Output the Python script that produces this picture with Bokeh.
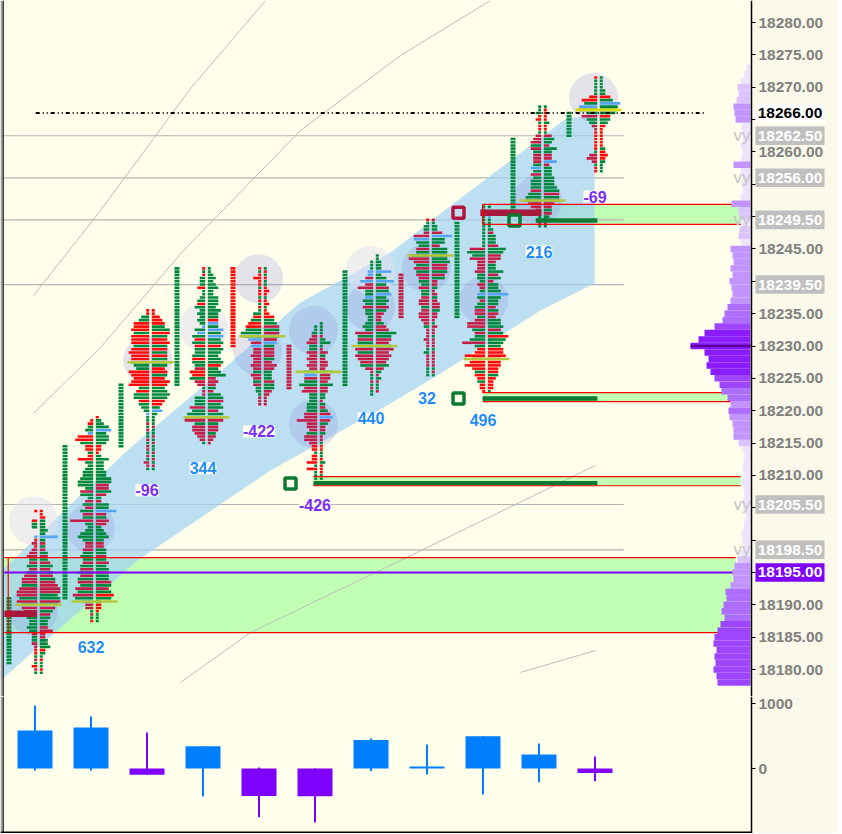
from bokeh.plotting import figure
from bokeh.models import ColumnDataSource, LinearAxis, FixedTicker, Range1d, LabelSet
from bokeh.layouts import column
from bokeh.embed import file_html
from bokeh.resources import INLINE
from bokeh.core.properties import value

# ---------------- data ----------------
SESSION = list(range(11))

# footprint profile per session: price of the top level, then one char per 0.5 level (top -> bottom)
# digits = green, a-i = red, A-I = crimson, j-r = blue; the rank in its range is the bar size
PROFILE_HIGH = [18204.5, 18219.0, 18235.5, 18242.0, 18242.0, 18233.5, 18244.0, 18249.5, 18251.5, 18267.0, 18271.5]
PROFILE_LEFT = [
    "a..b22..ja" "BaBCD3C4C4" "EFF6GHH7H6" "FE543343B2" "2BAaa1A1bA1",
    ".ab23kfg5c" "c2bf323445" "663E52C4C5" "D4I323564C" "CD454D5E6E" "6F5G6H7mCC" "1A1a",
    "aa34ffg6gg" "g6ghgg765h" "gfgh4e66d4" "32j11A1A11" "A1AA1A1BA1",
    "a1a222c112" "3c423232j4" "l5d5d445e5" "4Dfe6DC1AA" "444F57HH4E" "EDCB1",
    "a1acaa1aa1" "a1a13c4ef6" "87nDmCCDCC" "DC3DC3C221AAA",
    ".112BCD33D" "CDCDC5nE57" "EF333444EE" "HDDC4EECbb" "1bbd1d111",
    "..111kkCnC" "F33l43D332" "2343G6F66G" "6GFE5CA11A" "1A11",
    "a122BFo54E" "57HF5F5ED4" "3D33CDD3CD" "DCB2AAABAA" "12AAAA111",
    "1111111111" "111F75FCCC" "D332CB2l3B" "34DD3DGG5D" "46I4cdhefh" "e4dc3bba",
    "112ab1aa1B" "CD4D3CCC3m" "3D3444D566" "EDB211A1",
    "a11111cf5p" "74F43BAaaa" "aaa1CDB1aa",
]
PROFILE_RIGHT = [
    "aab22232p2" "B2B3C3D5D5" "E6FGHH78H7" "F5D433CEBB" "334b21a11a1",
    "a235o4554b" "ba25333446" "6EE6D2B55q" "D4ED23453C" "C44D4E45E5" "5F6E6g62bb" "a111",
    "aacde57g6f" "g6f6f666ef" "6egf5676ed" "3m2111A11A" "1A11A1A1A1",
    "1123234224" "443544dm4o" "5o56e65456" "e457CDC3B5" "6F56D6FF4D" "D3CBA",
    "1a1a11aba1" "ab1abd45F6" "F6En4DDD4C" "ED333D44CBAAA",
    "1111A241AC" "2BCCB5DDC5" "CC22A2B3Dn" "D3BB2AA1aa" "11a2aaa11",
    "11222o24p4" "E5o454E4CB" "B3DE86FE6G" "EFED5C2A2A" "11A.",
    "A122Dq55C6" "6667FF6E5B" "B2AB2BCC3B" "BA1BAA1AAA" "1AAAAA1A1",
    "1.1j1112B3" "33D76EEC33" "6D5B445q54" "4C4DC556E6" "h765ffgeee" "dd4cbbb1",
    "1aaaa2aa1C" "43B53CCnB3" "3344456F66" "DC3C21A1",
    "111122d5q7" "76d43baaaa" "aa2bcb2111",
]
POC_PRICE = [18190.0, 18190.5, 18227.5, 18219.0, 18231.5, 18226.0, 18230.0, 18244.0, 18228.0, 18252.5, 18266.5]

# single-print column beside each profile
TPO_HIGH = [18191.0, 18214.5, 18224.0, 18242.0, 18242.0, 18230.0, 18241.5, 18241.0, 18249.0, 18262.0, 18266.0]
TPO_LOW = [18181.0, 18191.0, 18214.5, 18224.0, 18230.0, 18223.5, 18224.0, 18234.5, 18234.5, 18251.0, 18262.5]
TPO_KIND = ["g", "g", "g", "g", "r", "c", "g", "c", "g", "g", "g"]

# session delta (bottom pane) and the labels under each profile
DELTA = [585, 632, -96, 344, -422, -426, 440, 32, 496, 216, -69]
DELTA_HIGH = [970, 800, 554, 344, 15, 0, 460, 370, 496, 385, 185]
DELTA_LOW = [-30, -30, -96, -430, -750, -830, -40, -92, -400, -210, -195]
LABEL_SESSION = [1, 2, 3, 4, 5, 6, 7, 8, 9, 10]
LABEL_PRICE = [18183.5, 18207.7, 18211.1, 18216.8, 18205.5, 18218.8, 18221.9, 18218.6, 18244.6, 18253.1]

# composite volume profile at the right edge
VOL_PRICE = list(range(18273, 18177, -1))
VOL_SIZE = [4, 6, 10, 13, 12, 14, 17, 16, 15, 9, 8, 8, 10, 8, 9, 17, 10, 8, 9, 8, 10, 19, 12, 11, 9,
            11, 12, 10, 20, 18, 17, 20, 18, 21, 19, 18, 20, 23, 26, 28, 36, 46, 52, 60, 46, 42, 44, 40,
            36, 31, 29, 23, 20, 22, 21, 18, 17, 17, 12, 8, 6, 7, 8, 6, 9, 7, 6, 8, 7, 5, 6, 7, 9, 8, 7,
            10, 13, 16, 18, 17, 20, 25, 24, 27, 29, 26, 30, 33, 36, 37, 34, 36, 35, 37, 34, 33]
VOL_POC = 18230.0

# levels
VY_LINES = [18262.5, 18256.0, 18249.5, 18239.5, 18205.5, 18198.5]
VY_TEXT_LEVELS = [18262.5, 18256.0, 18249.5, 18205.5, 18198.5]
AXIS_MARKS = [18266.0, 18262.5, 18256.0, 18249.5, 18239.5, 18205.5, 18198.5, 18195.0]
AXIS_MARK_KIND = ["last", "vy", "vy", "vy", "vy", "vy", "vy", "ib"]
PRICE_TICKS = list(range(18180, 18281, 5))
DELTA_TICKS = [0, 1000]

# zones (price top/bottom, start/end in session units)
ZONE_TOP = [18197.3, 18209.8, 18222.8, 18251.9]
ZONE_BOTTOM = [18185.7, 18208.4, 18221.4, 18248.8]
ZONE_START = [-0.61, 4.91, 7.93, 7.93]
ZONE_END = [12.45, 12.54, 12.54, 12.54]
THICK_START = [-0.61, 7.89, 8.88, 4.91, 7.93]
THICK_END = [-0.03, 8.98, 9.98, 9.98, 9.98]
THICK_PRICE = [18188.6, 18250.6, 18249.4, 18208.8, 18221.9]
THICK_KIND = ["c", "c", "g", "g", "g"]
SQUARE_X = [7.5, 4.5, 7.5, 8.5]
SQUARE_PRICE = [18250.6, 18208.75, 18221.9, 18249.4]
SQUARE_KIND = ["c", "g", "g", "g"]
LAST_PRICE = 18266.0
LAST_SPAN = [-0.05, 11.91]
IB_PRICE = 18195.0
IB_SPAN = [-0.61, 12.48]

# channel band
BAND_X = [-0.679, 0.089, 1.643, 2.893, 4.679, 6.286, 7.411, 9.446, 9.929,
          9.929, 8.964, 7.179, 6.286, 4.143, 1.768, 0.339, -0.679]
BAND_P = [18194.99, 18201.48, 18214.31, 18223.43, 18236.72, 18244.45, 18252.02, 18265.32, 18265.32,
          18239.66, 18235.49, 18225.75, 18221.11, 18210.76, 18196.85, 18186.03, 18178.30]

# thin trend curves
TREND_X = [[-0.089, 1.107, 2.714, 4.054],
           [-0.089, 1.107, 2.589, 4.679, 6.464, 8.071],
           [2.536, 3.786, 6.464, 9.946],
           [8.607, 9.946]]
TREND_P = [[18237.8, 18250.94, 18269.8, 18283.4],
           [18219.57, 18229.77, 18244.76, 18263.31, 18274.9, 18283.4],
           [18177.99, 18185.72, 18196.85, 18211.53],
           [18179.54, 18182.94]]

# highlight circles
CIRCLE_X = [0.93, -0.09, 1.95, 3.93, 3.91, 4.91, 4.91, 5.93, 6.93, 7.95, 8.91, 9.91, -0.09, 2.95, 5.93]
CIRCLE_P = [18201.9, 18189.1, 18227.8, 18240.4, 18229.3, 18232.4, 18218.0, 18236.0, 18242.1, 18237.0,
            18252.5, 18268.4, 18203.0, 18232.9, 18241.7]
CIRCLE_KIND = ["p"] * 12 + ["w"] * 3

# ---------------- styling ----------------
BG = "#FFFFEC"
BG_SIDE = "#FBFAEA"
PX = 1 / 56.0          # session units per pixel
PPX = 6.47             # pixels per price point
GREEN = "#00883C"
RED = "#FF0A0A"
CRIMSON = "#C41E46"
BLUE = "#55A5F5"
COL = {"g": GREEN, "r": RED, "c": CRIMSON, "b": BLUE}
FONT = "Liberation Sans"
TOTAL_W, FRAME_H, LOW_H = 838, 696, 137


def decode(ch):
    if ch == ".":
        return None
    if ch.isdigit():
        return "g", int(ch)
    if "a" <= ch <= "i":
        return "r", ord(ch) - 96
    if "A" <= ch <= "I":
        return "c", ord(ch) - 64
    if "j" <= ch <= "r":
        return "b", ord(ch) - 105
    return None


def sx(px):
    """session-unit coordinate of a pixel column"""
    return (px - 38) * PX


X0 = sx(0)
X1 = sx(TOTAL_W)
XAXIS = sx(751)
Y1 = 18280 + 22 / PPX
Y0 = Y1 - FRAME_H / PPX

p = figure(frame_width=TOTAL_W, frame_height=FRAME_H, x_range=Range1d(X0, X1), y_range=Range1d(Y0, Y1),
           output_backend="svg", toolbar_location=None, x_axis_location=None, y_axis_location=None,
           min_border_left=0, min_border_right=0, min_border_top=0, min_border_bottom=0,
           background_fill_color=BG, border_fill_color=BG_SIDE, outline_line_color=None)
p.grid.visible = False

# scale area background
p.quad(left=[XAXIS], right=[X1], top=[Y1], bottom=[Y0], fill_color=BG_SIDE, line_color=None)

# zones
p.quad(left=ZONE_START, right=ZONE_END, top=ZONE_TOP, bottom=ZONE_BOTTOM,
       fill_color="#C0FFB4", line_color=None)

# gray level lines
p.segment(x0=[X0] * len(VY_LINES), x1=[10.45] * len(VY_LINES), y0=VY_LINES, y1=VY_LINES,
          line_color="#B4B4B4", line_width=1.2)

# trend curves
for tx, tp in zip(TREND_X, TREND_P):
    p.line(tx, tp, line_color="#BDBDBD", line_width=1)

# channel band
p.patch(BAND_X, BAND_P, fill_color="#A1D1F5", fill_alpha=0.7, line_color=None)

# circles
csrc = ColumnDataSource(dict(
    x=CIRCLE_X, y=CIRCLE_P,
    c=["#9090E0" if k == "p" else "#E0E0F0" for k in CIRCLE_KIND],
    a=[0.25 if k == "p" else 0.55 for k in CIRCLE_KIND]))
p.scatter("x", "y", source=csrc, size=49, marker="circle", fill_color="c", fill_alpha="a", line_color=None)

# single prints
tl, tr, tt, tb, tc = [], [], [], [], []
for i in SESSION:
    pr = TPO_HIGH[i]
    while pr >= TPO_LOW[i] - 1e-9:
        tl.append(i - 32 * PX); tr.append(i - 27 * PX)
        tt.append(pr + 0.2); tb.append(pr - 0.2); tc.append(COL[TPO_KIND[i]])
        pr -= 0.5
p.quad(left=tl, right=tr, top=tt, bottom=tb, fill_color=tc, line_color=None)

# footprint bars
bl, br, bt, bb, bc = [], [], [], [], []
for i in SESSION:
    for side, s in ((-1, PROFILE_LEFT[i]), (1, PROFILE_RIGHT[i])):
        for k, ch in enumerate(s):
            d = decode(ch)
            if d is None:
                continue
            kind, u = d
            price = PROFILE_HIGH[i] - 0.5 * k
            w = (0.5 + 2.5 * u) * PX
            g = 1.3 * PX
            if side < 0:
                bl.append(i - g - w); br.append(i - g)
            else:
                bl.append(i + g); br.append(i + g + w)
            bt.append(price + 0.2); bb.append(price - 0.2); bc.append(COL[kind])
p.quad(left=bl, right=br, top=bt, bottom=bb, fill_color=bc, line_color=None)

# POC lines
p.quad(left=[i - 23 * PX for i in SESSION], right=[i + 23 * PX for i in SESSION],
       top=[v + 0.2 for v in POC_PRICE], bottom=[v - 0.2 for v in POC_PRICE],
       fill_color=["#B4C83C"] * 10 + ["#DCDC00"], line_color=None)

# thick markers
p.quad(left=THICK_START, right=THICK_END,
       top=[v + (0.5 if k == "c" else 0.35) for v, k in zip(THICK_PRICE, THICK_KIND)],
       bottom=[v - (0.5 if k == "c" else 0.35) for v, k in zip(THICK_PRICE, THICK_KIND)],
       fill_color=["#A8183C" if k == "c" else "#0A7A32" for k in THICK_KIND], line_color=None)
p.scatter(SQUARE_X, SQUARE_PRICE, marker="square", size=11, fill_alpha=0,
          line_color=["#B4143C" if k == "c" else "#0A7A32" for k in SQUARE_KIND], line_width=3.5)

# zone borders
p.segment(x0=ZONE_START + ZONE_START, x1=ZONE_END + ZONE_END, y0=ZONE_TOP + ZONE_BOTTOM,
          y1=ZONE_TOP + ZONE_BOTTOM, line_color="#FF0000", line_width=1.2)
p.segment(x0=[ZONE_START[0] + 0.07], x1=[ZONE_START[0] + 0.07], y0=[ZONE_TOP[0]], y1=[ZONE_BOTTOM[0]],
          line_color="#FF0000", line_width=1.2)
p.segment(x0=ZONE_START[3:], x1=ZONE_START[3:], y0=ZONE_TOP[3:], y1=ZONE_BOTTOM[3:],
          line_color="#FF0000", line_width=1.2)

# IB line and last price
p.segment(x0=[IB_SPAN[0]], x1=[IB_SPAN[1]], y0=[IB_PRICE], y1=[IB_PRICE], line_color="#8000FF", line_width=2)
p.segment(x0=[LAST_SPAN[0]], x1=[LAST_SPAN[1]], y0=[LAST_PRICE], y1=[LAST_PRICE],
          line_color="black", line_width=2, line_dash="4 3 1 3 1 3")

# composite volume profile
XR = sx(750)


def vcol(w):
    if w < 11:
        return "#EFE2FF"
    if w < 15:
        return "#DCC4FF"
    if w < 22:
        return "#C294FF"
    if w < 30:
        return "#AD6EFF"
    if w < 40:
        return "#9D45FF"
    return "#8B1CFF"


p.quad(left=[XR - w * PX for w in VOL_SIZE], right=[XR] * len(VOL_SIZE),
       top=[v + 0.5 for v in VOL_PRICE], bottom=[v - 0.5 for v in VOL_PRICE],
       fill_color=[vcol(w) for w in VOL_SIZE], line_color=None)
p.quad(left=[XR - max(VOL_SIZE) * PX], right=[XR], top=[VOL_POC + 0.2], bottom=[VOL_POC - 0.2],
       fill_color="#5C0099", line_color=None)

# "vy" tags, cut off at the scale line
vy_src = ColumnDataSource(dict(x=[sx(733)] * len(VY_TEXT_LEVELS), y=VY_TEXT_LEVELS,
                               t=["vy"] * len(VY_TEXT_LEVELS)))
p.text(x="x", y="y", text="t", source=vy_src, text_font=value(FONT), text_font_size="17px",
       text_color="#C4C4C4", text_baseline="middle", text_align="left")
p.quad(left=[XAXIS], right=[sx(755)], top=[Y1], bottom=[Y0], fill_color=BG_SIDE, line_color=None)

# window edge at the left
p.quad(left=[X0, sx(2)], right=[sx(2), sx(3.5)], top=[Y1, Y1], bottom=[Y0, Y0],
       fill_color=["#A0A0A0", "#404040"], line_color=None)

# delta labels
lsrc = ColumnDataSource(dict(
    x=[s - 0.0625 for s in LABEL_SESSION], y=LABEL_PRICE,
    t=[str(DELTA[s]) for s in LABEL_SESSION],
    c=["#1E8CFF" if DELTA[s] >= 0 else "#7B2CFF" for s in LABEL_SESSION]))
p.add_layout(LabelSet(x="x", y="y", text="t", source=lsrc, text_color="c", text_align="center",
                      text_baseline="middle", text_font=value(FONT), text_font_size="16px",
                      text_font_style="bold", background_fill_color=BG))

# price scale: a real axis pinned at the scale line
hidden = {18265, 18255, 18250, 18240, 18205, 18200, 18195}
ax = LinearAxis(ticker=FixedTicker(ticks=PRICE_TICKS), fixed_location=XAXIS,
                major_label_overrides={t: ("" if t in hidden else f"{t:.2f}") for t in PRICE_TICKS},
                axis_line_color="black", axis_line_width=1.5, major_tick_line_color="black",
                major_tick_out=4, major_tick_in=0, minor_tick_line_color=None,
                major_label_text_font=FONT, major_label_text_font_size="15.5px",
                major_label_text_font_style="bold", major_label_text_color="#808080",
                major_label_standoff=3)
p.add_layout(ax, "right")

# boxed level tags on the price scale
styles = {"last": ("#FFFFFF", "#000000"), "vy": ("#C0C0C0", "#FFFFFF"), "ib": ("#8000FF", "#FFFFFF")}
half = 9.3 / PPX
p.quad(left=[sx(755)] * len(AXIS_MARKS), right=[sx(824)] * len(AXIS_MARKS),
       top=[v + half for v in AXIS_MARKS], bottom=[v - half for v in AXIS_MARKS],
       fill_color=[styles[k][0] for k in AXIS_MARK_KIND], line_color=None, level="overlay")
tag_src = ColumnDataSource(dict(x=[sx(789.5)] * len(AXIS_MARKS), y=AXIS_MARKS,
                                t=[f"{v:.2f}" for v in AXIS_MARKS],
                                c=[styles[k][1] for k in AXIS_MARK_KIND]))
p.text(x="x", y="y", text="t", source=tag_src, text_color="c", text_font=value(FONT),
       text_font_size="15.5px", text_font_style="bold", text_align="center", text_baseline="middle",
       level="overlay")

# ---------------- delta pane ----------------
D_TOP = 72 / 65 * 1000
D_BOT = D_TOP - LOW_H / 65 * 1000
p2 = figure(frame_width=TOTAL_W, frame_height=LOW_H, x_range=p.x_range, y_range=Range1d(D_BOT, D_TOP),
            output_backend="svg", toolbar_location=None, x_axis_location=None, y_axis_location=None,
            min_border_left=0, min_border_right=0, min_border_top=0, min_border_bottom=0,
            background_fill_color=BG, border_fill_color=BG_SIDE, outline_line_color=None)
p2.grid.visible = False
p2.quad(left=[XAXIS], right=[X1], top=[D_TOP], bottom=[D_BOT], fill_color=BG_SIDE, line_color=None)
dcol = ["#0080FF" if d >= 0 else "#8000FF" for d in DELTA]
xs = [s - 0.0625 for s in SESSION]
p2.segment(x0=xs, x1=xs, y0=DELTA_LOW, y1=DELTA_HIGH, line_color=dcol, line_width=2)
p2.vbar(x=xs, width=0.625, top=[max(d, 0) for d in DELTA], bottom=[min(d, 0) for d in DELTA],
        fill_color=dcol, line_color=None)
p2.quad(left=[X0, sx(2), X0], right=[sx(2), sx(3.5), XAXIS],
        top=[D_TOP, D_TOP, D_BOT + 2 / 65 * 1000], bottom=[D_BOT, D_BOT, D_BOT],
        fill_color=["#A0A0A0", "#404040", "#000000"], line_color=None)
ax2 = LinearAxis(ticker=FixedTicker(ticks=DELTA_TICKS), fixed_location=XAXIS,
                 axis_line_color="black", axis_line_width=1.5,
                 major_tick_line_color="black", major_tick_out=4, major_tick_in=0,
                 minor_tick_line_color=None, major_label_text_font=FONT,
                 major_label_text_font_size="15.5px", major_label_text_font_style="bold",
                 major_label_text_color="#808080", major_label_standoff=3)
p2.add_layout(ax2, "right")

layout = column(p, p2, spacing=0)
open("out.html", "w").write(file_html(layout, INLINE))
